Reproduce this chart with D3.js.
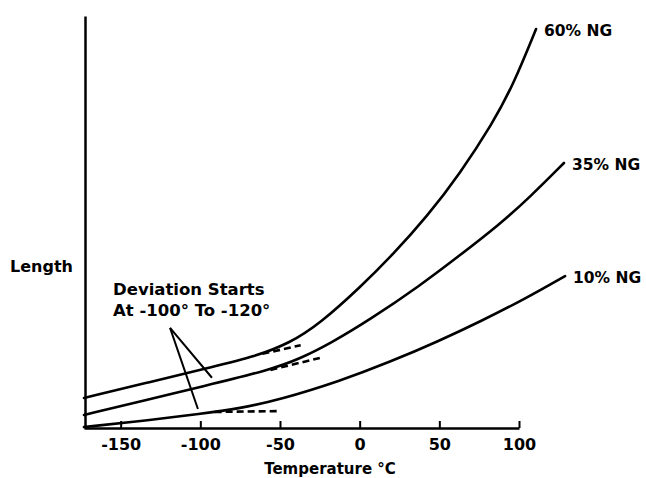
<!DOCTYPE html>
<html>
<head>
<meta charset="utf-8">
<script src="https://cdn.jsdelivr.net/npm/d3@7"></script>
<style>
  html, body { margin: 0; padding: 0; background: #fff; }
  svg { display: block; }
  text { font-family: "DejaVu Sans", sans-serif; font-weight: bold; fill: #000; }
</style>
</head>
<body>
<svg id="chart" width="646" height="478"></svg>
<script>
// ---- data (temperature in °C, length in arbitrary units) ----
const xTicks = [-150, -100, -50, 0, 50, 100];

const temp60 = [-173, -131.6, -92.7, -65.7, -43.7, -24.9, 0.2, 20.9, 42.3, 63.0, 83.7, 96.2, 110.7];
const len60  = [7.28, 11.17, 14.81, 17.33, 20.63, 25.36, 34.10, 42.11, 51.33, 61.77, 74.15, 83.13, 96.84];

const temp35 = [-173, -131.6, -100.2, -56.3, -37.4, -18.6, 6.5, 37.9, 63.0, 88.1, 106.9, 128.2];
const len35  = [3.16, 7.04, 9.95, 14.08, 16.84, 20.49, 26.31, 34.56, 41.94, 49.51, 56.07, 64.32];

const temp10 = [-173, -131.6, -100.2, -75.1, -50.0, -12.3, 19.0, 50.4, 75.5, 103.8, 128.9];
const len10  = [0.24, 1.94, 3.40, 4.76, 6.89, 11.41, 16.02, 21.24, 25.80, 31.36, 36.89];

// dashed linear extrapolations (deviation)
const dashTemp60 = [-61, -37];
const dashLen60  = [18.0, 20.1];
const dashTemp35 = [-56, -25];
const dashLen35  = [14.1, 17.0];
const dashTemp10 = [-91, -51];
const dashLen10  = [3.9, 4.1];

const seriesNames = ["60% NG", "35% NG", "10% NG"];

// annotation pointer: apex and two ends (temp, length)
const pointerTemp = [-119, -92.7, -101.5];
const pointerLen  = [24.3, 12.2, 4.6];

const annotationLines = ["Deviation Starts", "At -100° To -120°"];

// ---- layout ----
const svg = d3.select("#chart");
const x = d3.scaleLinear().domain([-173, 100]).range([84, 519]);
const y = d3.scaleLinear().domain([0, 100]).range([428, 16]);

const zip = (a, b) => a.map((v, i) => [v, b[i]]);
const line = d3.line().x(d => x(d[0])).y(d => y(d[1])).curve(d3.curveBasis);
const straight = d3.line().x(d => x(d[0])).y(d => y(d[1]));

// axes
const xAxis = d3.axisBottom(x).tickValues(xTicks).tickSizeInner(-7).tickSizeOuter(0)
  .tickFormat(d3.format("d"));
const gx = svg.append("g").attr("transform", `translate(0,${y(0)})`).call(xAxis);
gx.select(".domain").attr("stroke", "#000").attr("stroke-width", 2.5);
gx.selectAll(".tick line").attr("stroke", "#000").attr("stroke-width", 2);
gx.selectAll(".tick text")
  .attr("y", 22).attr("dy", 0)
  .style("font-family", "'DejaVu Sans', sans-serif").style("font-weight", "bold")
  .style("font-size", "16px").attr("fill", "#000")
  .text(d => d < 0 ? "-" + Math.abs(d) : d);

const yAxis = d3.axisLeft(y).tickValues([]).tickSizeOuter(0);
const gy = svg.append("g").attr("transform", `translate(${x(-173) + 1},0)`).call(yAxis);
gy.select(".domain").attr("stroke", "#000").attr("stroke-width", 2.5);

// axis titles
svg.append("text").attr("x", 330).attr("y", 474).attr("text-anchor", "middle")
  .style("font-size", "15px").text("Temperature  °C");
svg.append("text").attr("x", 10).attr("y", 272)
  .style("font-size", "16px").text("Length");

// curves
const series = [zip(temp60, len60), zip(temp35, len35), zip(temp10, len10)];
svg.selectAll("path.curve").data(series).enter().append("path")
  .attr("class", "curve").attr("d", line)
  .attr("fill", "none").attr("stroke", "#000").attr("stroke-width", 2.6)
  .attr("stroke-linecap", "round");

// dashed deviation lines
const dashes = [zip(dashTemp60, dashLen60), zip(dashTemp35, dashLen35), zip(dashTemp10, dashLen10)];
svg.selectAll("path.dash").data(dashes).enter().append("path")
  .attr("class", "dash").attr("d", straight)
  .attr("fill", "none").attr("stroke", "#000").attr("stroke-width", 2.6)
  .attr("stroke-dasharray", "7,4");

// series labels at curve ends
series.forEach((s, i) => {
  const last = s[s.length - 1];
  svg.append("text")
    .attr("x", x(last[0]) + 8).attr("y", y(last[1]) + 7)
    .style("font-size", "15.5px").text(seriesNames[i]);
});

// annotation
svg.append("text").attr("x", 113).attr("y", 295).style("font-size", "16.5px").text(annotationLines[0]);
svg.append("text").attr("x", 113).attr("y", 316).style("font-size", "16.5px").text(annotationLines[1]);
[1, 2].forEach(k => {
  svg.append("line")
    .attr("x1", x(pointerTemp[0])).attr("y1", y(pointerLen[0]))
    .attr("x2", x(pointerTemp[k])).attr("y2", y(pointerLen[k]))
    .attr("stroke", "#000").attr("stroke-width", 2);
});
</script>
</body>
</html>
